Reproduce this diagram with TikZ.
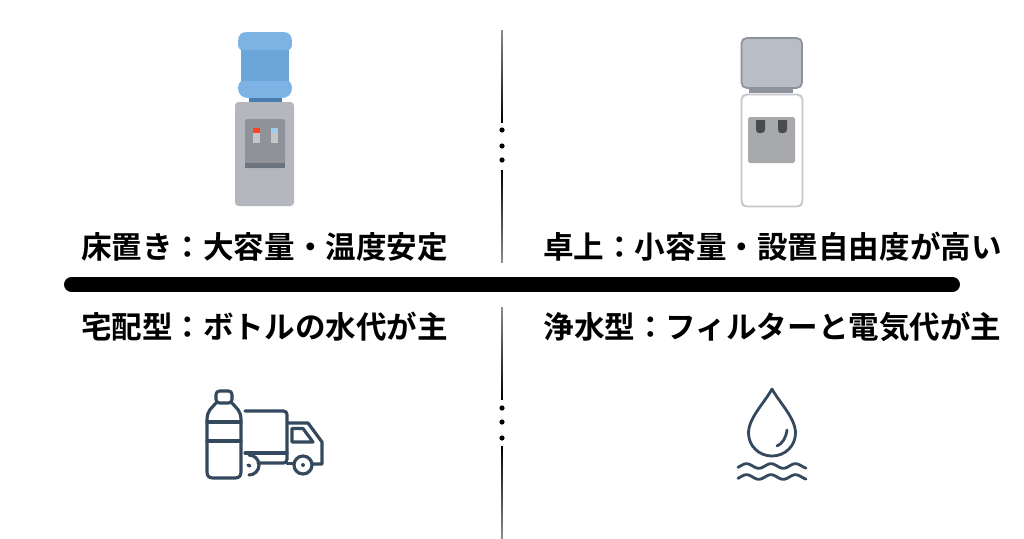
\documentclass[tikz,border=0pt]{standalone}
\usepackage{fontspec}
\newfontfamily\jpfont{Noto Sans CJK JP Bold}
\newcommand{\widecolon}{\char"FF1A\relax}
\definecolor{iconblue}{HTML}{34495E}
\definecolor{bottlecap}{HTML}{7DB3E4}
\definecolor{bottlebody}{HTML}{6CA6D8}
\definecolor{bottleneck}{HTML}{4A7DAE}
\definecolor{basegray}{HTML}{B4B7BE}
\definecolor{panelgray}{HTML}{8F9298}
\definecolor{panelband}{HTML}{6B737E}
\definecolor{tapgray}{HTML}{C6C6C8}
\definecolor{tanktop}{HTML}{B9BDC6}
\definecolor{tankline}{HTML}{8E929B}
\definecolor{bodyline}{HTML}{C4C6CC}
\definecolor{sinkgray}{HTML}{A7A9AD}
\definecolor{nozzle}{HTML}{4A4B4E}
\tikzset{
  caption/.style={font=\jpfont\fontsize{17.4}{20}\selectfont,text=black,inner sep=0pt},
  icon/.style={draw=iconblue,line width=1.8pt,line join=round,line cap=round},
  thinicon/.style={icon,line width=1.6pt},
  sepdot/.style={fill=black}
}
\begin{document}
\begin{tikzpicture}[x=0.02cm,y=-0.02cm]
    \useasboundingbox (0,0) rectangle (1024,538);

    \fill[bottlebody] (241,48) rectangle (289,83);
    \fill[bottlecap] (241,50) .. controls (238,48) and (238,46) .. (238,42) .. controls (238,35) and (241,32) .. (247,32) -- (283,32) .. controls (289,32) and (292,35) .. (292,42) .. controls (292,46) and (292,48) .. (289,50) -- cycle;
    \fill[bottlecap] (241,81) .. controls (239,83) and (238,85) .. (238,88) .. controls (238,94) and (242,98) .. (248,98) -- (282,98) .. controls (288,98) and (292,94) .. (292,88) .. controls (292,85) and (291,83) .. (289,81) -- cycle;
    \fill[bottleneck] (249,98) rectangle (282,102);
    \fill[basegray,rounded corners=2pt] (235,102) rectangle (294,206);
    \fill[panelgray,rounded corners=1pt] (245,119) rectangle (285,168);
    \fill[panelband] (245,163) rectangle (285,168);
    \fill[tapgray] (253,133) rectangle (260,143);
    \fill[red!65!orange!90!white] (253,128) rectangle (260,133);
    \fill[tapgray] (271,133) rectangle (278,143);
    \fill[bottlecap!70!white] (271,128) rectangle (278,133);

    \fill[tankline] (749,88) rectangle (793,93);
    \draw[tankline,fill=tanktop,line width=1pt,rounded corners=3pt] (741.5,38) rectangle (802,88);
    \draw[bodyline,fill=white,line width=1.1pt,rounded corners=3pt] (741.5,94.5) rectangle (802.5,206.5);
    \fill[sinkgray,rounded corners=1pt] (748,117) rectangle (795,163);
    \foreach \xnozzle in {756,778} {
        \fill[nozzle] (\xnozzle,120) -- (\xnozzle+9,120) -- (\xnozzle+9,129) .. controls (\xnozzle+9,132) and (\xnozzle+8,133) .. (\xnozzle+5,133) -- (\xnozzle+3,133) .. controls (\xnozzle+1,133) and (\xnozzle,132) .. (\xnozzle,129) -- cycle;
    }

    \node[caption] (floor) at (264.5,247) {床置き\widecolon 大容量・温度安定};
    \node[caption] (desk) at (772.5,247) {卓上\widecolon 小容量・設置自由度が高い};
    \node[caption] (bottled) at (264.5,327) {宅配型\widecolon ボトルの水代が主};
    \node[caption] (filtered) at (772.5,327) {浄水型\widecolon フィルターと電気代が主};

    \draw[black,line width=8.5pt,line cap=round] (71.5,284.5) -- (952.5,284.5);

    \foreach \ytop/\ydotA/\ydotB/\ydotC/\ybot in {30/130/146/160/262, 307/408/422/438/538} {
        \shade[top color=black!45,bottom color=black] (501.2,\ytop) rectangle (502.8,\ytop+92);
        \fill[sepdot] (502,\ydotA) circle (2.6);
        \fill[sepdot] (502,\ydotB) circle (2.6);
        \fill[sepdot] (502,\ydotC) circle (2.6);
        \shade[top color=black,bottom color=black!45] (501.2,\ybot-92) rectangle (502.8,\ybot);
    }

    \draw[icon,rounded corners=2pt] (216,403) -- (216,391) -- (232,391) -- (232,403) -- cycle;
    \draw[icon] (216,403) .. controls (212,408) and (207,410) .. (207,420) -- (207,472) .. controls (207,476) and (209,478) .. (213,478) -- (235,478) .. controls (239,478) and (241,476) .. (241,472) -- (241,420) .. controls (241,410) and (236,408) .. (232,403);
    \draw[icon] (207,422) -- (241,422);
    \draw[icon] (207,441) -- (241,441);
    \draw[icon,rounded corners=2pt] (245,411) -- (287,411) -- (287,463) -- (258,463);
    \draw[icon] (245,453) -- (287,453);
    \draw[icon] (287,463.5) -- (294,463.5);
    \draw[icon] (288,423) -- (308,423) -- (322,442) -- (322,464) -- (313,464);
    \draw[icon] (292,428.5) -- (303,428.5) -- (313,442) -- (292,442) -- cycle;
    \draw[icon] (303,465) circle (9);
    \fill[iconblue] (303,465) circle (2);
    \draw[icon] (249,455) arc[start angle=-90,end angle=90,radius=10];
    \draw[icon] (248,465) -- (250,466);

    \draw[thinicon] (772,389) .. controls (765,402) and (748.5,418) .. (748.5,433) .. controls (748.5,446) and (759,456) .. (772,456) .. controls (785,456) and (795.5,446) .. (795.5,433) .. controls (795.5,418) and (779,402) .. (772,389) -- cycle;
    \draw[thinicon] (787,430) .. controls (786,438) and (782,444) .. (777,446);
    \foreach \ywave in {466,477} {
        \draw[thinicon] plot[domain=738:806,samples=70,smooth] (\x,{\ywave-2.3*cos((\x-746.5)/24.5*360)});
    }
\end{tikzpicture}
\end{document}
